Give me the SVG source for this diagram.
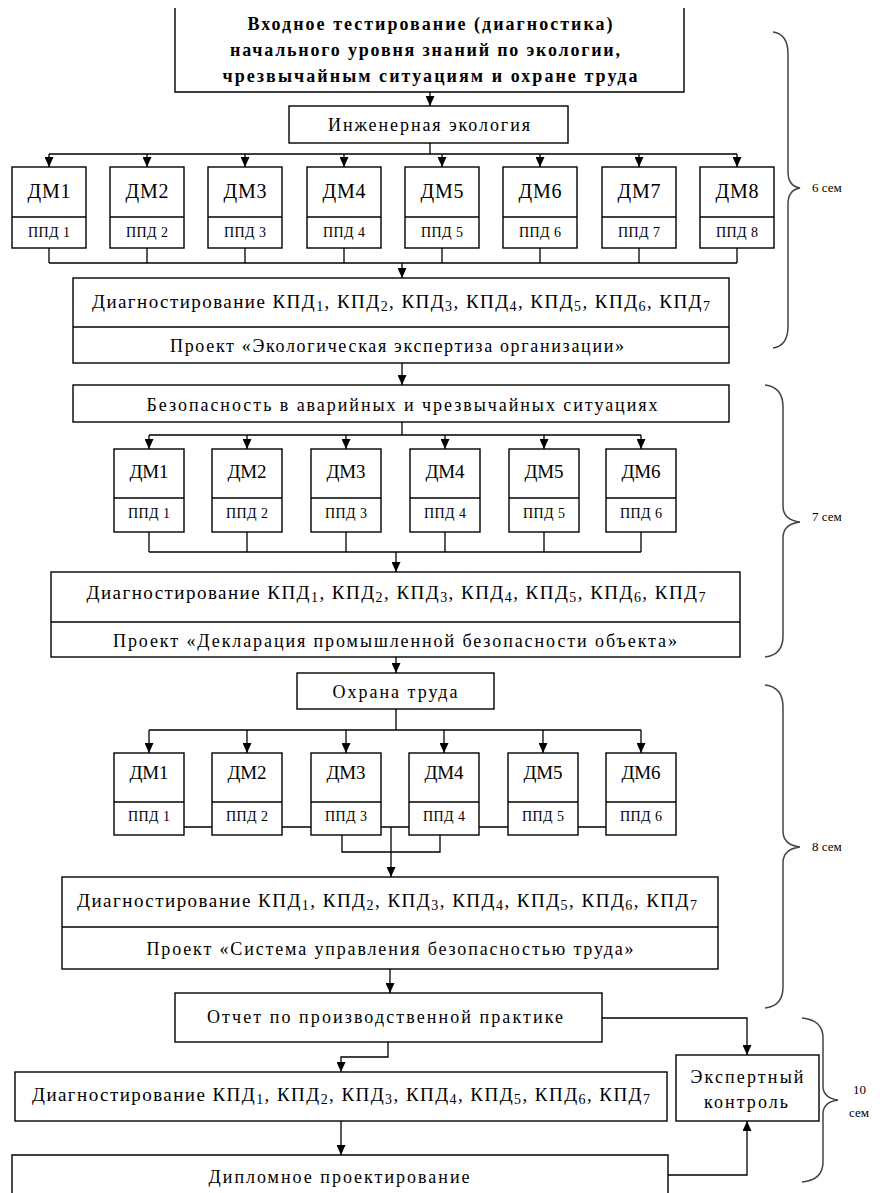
<svg xmlns="http://www.w3.org/2000/svg" width="882" height="1193" viewBox="0 0 882 1193">
<defs>
<marker id="ah" markerUnits="userSpaceOnUse" markerWidth="10" markerHeight="9" refX="10" refY="4.5" orient="auto">
<path d="M0,0 L10,4.5 L0,9 z" fill="#000"/>
</marker>
<style>
.nd rect, .bx { fill: #fff; stroke: #000; stroke-width: 1.4; }
.dv { stroke: #000; stroke-width: 1.4; fill: none; }
.cn path { fill: none; stroke: #000; stroke-width: 1.3; }
.cn .ar { marker-end: url(#ah); }
.br { fill: none; stroke: #444; stroke-width: 1.5; }
text { font-family: "Liberation Serif", "DejaVu Serif", "Times New Roman", serif; fill: #000; text-anchor: middle; }
.t18 { font-size: 18px; }
.tb { font-size: 18px; font-weight: bold; }
.dm { font-size: 20px; }
.dm2 { font-size: 19px; }
.pp { font-size: 14px; }
.dg { font-size: 19px; }
.sb { font-size: 14px; }
.sm { font-size: 13px; text-anchor: start; }
</style>
</defs>
<rect x="0" y="0" width="882" height="1193" style="fill:#fff;stroke:none"/>

<g id="top" class="nd">
<path class="bx" d="M175,8 L175,92 L684,92 L684,8"/>
<text class="tb" x="430" y="30" textLength="365" lengthAdjust="spacing">Входное тестирование (диагностика)</text>
<text class="tb" x="425" y="56" textLength="390" lengthAdjust="spacing">начального уровня знаний по экологии,</text>
<text class="tb" x="430" y="82" textLength="415" lengthAdjust="spacing">чрезвычайным ситуациям и охране труда</text>
</g>

<g id="eng" class="nd">
<rect x="289" y="106" width="279" height="37"/>
<text class="t18" x="429" y="131" textLength="202" lengthAdjust="spacing">Инженерная экология</text>
</g>

<g id="row1" class="nd">
<g id="r1dm1"><rect x="12" y="167" width="74" height="81"/><path class="dv" d="M12,217 H86"/><text class="dm" x="49" y="198" textLength="43" lengthAdjust="spacing">ДМ1</text><text class="pp" x="49" y="237" textLength="42" lengthAdjust="spacing">ППД 1</text></g>
<g id="r1dm2"><rect x="110" y="167" width="74" height="81"/><path class="dv" d="M110,217 H184"/><text class="dm" x="147" y="198" textLength="43" lengthAdjust="spacing">ДМ2</text><text class="pp" x="147" y="237" textLength="42" lengthAdjust="spacing">ППД 2</text></g>
<g id="r1dm3"><rect x="208" y="167" width="74" height="81"/><path class="dv" d="M208,217 H282"/><text class="dm" x="245" y="198" textLength="43" lengthAdjust="spacing">ДМ3</text><text class="pp" x="245" y="237" textLength="42" lengthAdjust="spacing">ППД 3</text></g>
<g id="r1dm4"><rect x="307" y="167" width="74" height="81"/><path class="dv" d="M307,217 H381"/><text class="dm" x="344" y="198" textLength="43" lengthAdjust="spacing">ДМ4</text><text class="pp" x="344" y="237" textLength="42" lengthAdjust="spacing">ППД 4</text></g>
<g id="r1dm5"><rect x="405" y="167" width="74" height="81"/><path class="dv" d="M405,217 H479"/><text class="dm" x="442" y="198" textLength="43" lengthAdjust="spacing">ДМ5</text><text class="pp" x="442" y="237" textLength="42" lengthAdjust="spacing">ППД 5</text></g>
<g id="r1dm6"><rect x="503" y="167" width="74" height="81"/><path class="dv" d="M503,217 H577"/><text class="dm" x="540" y="198" textLength="43" lengthAdjust="spacing">ДМ6</text><text class="pp" x="540" y="237" textLength="42" lengthAdjust="spacing">ППД 6</text></g>
<g id="r1dm7"><rect x="602" y="167" width="74" height="81"/><path class="dv" d="M602,217 H676"/><text class="dm" x="639" y="198" textLength="43" lengthAdjust="spacing">ДМ7</text><text class="pp" x="639" y="237" textLength="42" lengthAdjust="spacing">ППД 7</text></g>
<g id="r1dm8"><rect x="700" y="167" width="74" height="81"/><path class="dv" d="M700,217 H774"/><text class="dm" x="737" y="198" textLength="43" lengthAdjust="spacing">ДМ8</text><text class="pp" x="737" y="237" textLength="42" lengthAdjust="spacing">ППД 8</text></g>
</g>

<g id="diag1" class="nd">
<rect x="73" y="278" width="656" height="85"/>
<path class="dv" d="M73,327 H729"/>
<text class="dg" x="401" y="308" textLength="618" lengthAdjust="spacing">Диагностирование  КПД<tspan class="sb" dy="3">1</tspan><tspan dy="-3">, КПД</tspan><tspan class="sb" dy="3">2</tspan><tspan dy="-3">, КПД</tspan><tspan class="sb" dy="3">3</tspan><tspan dy="-3">, КПД</tspan><tspan class="sb" dy="3">4</tspan><tspan dy="-3">, КПД</tspan><tspan class="sb" dy="3">5</tspan><tspan dy="-3">, КПД</tspan><tspan class="sb" dy="3">6</tspan><tspan dy="-3">, КПД</tspan><tspan class="sb" dy="3">7</tspan></text>
<text class="t18" x="397" y="352" textLength="454" lengthAdjust="spacing">Проект «Экологическая экспертиза организации»</text>
</g>

<g id="safety" class="nd">
<rect x="73" y="385" width="656" height="37"/>
<text class="t18" x="402" y="411" textLength="511" lengthAdjust="spacing">Безопасность в аварийных  и чрезвычайных ситуациях</text>
</g>

<g id="row2" class="nd">
<g id="r2dm1"><rect x="114" y="449" width="70" height="83"/><path class="dv" d="M114,498 H184"/><text class="dm2" x="149" y="478" textLength="39" lengthAdjust="spacing">ДМ1</text><text class="pp" x="149" y="518" textLength="42" lengthAdjust="spacing">ППД 1</text></g>
<g id="r2dm2"><rect x="212" y="449" width="70" height="83"/><path class="dv" d="M212,498 H282"/><text class="dm2" x="247" y="478" textLength="39" lengthAdjust="spacing">ДМ2</text><text class="pp" x="247" y="518" textLength="42" lengthAdjust="spacing">ППД 2</text></g>
<g id="r2dm3"><rect x="311" y="449" width="70" height="83"/><path class="dv" d="M311,498 H381"/><text class="dm2" x="346" y="478" textLength="39" lengthAdjust="spacing">ДМ3</text><text class="pp" x="346" y="518" textLength="42" lengthAdjust="spacing">ППД 3</text></g>
<g id="r2dm4"><rect x="410" y="449" width="70" height="83"/><path class="dv" d="M410,498 H480"/><text class="dm2" x="445" y="478" textLength="39" lengthAdjust="spacing">ДМ4</text><text class="pp" x="445" y="518" textLength="42" lengthAdjust="spacing">ППД 4</text></g>
<g id="r2dm5"><rect x="509" y="449" width="70" height="83"/><path class="dv" d="M509,498 H579"/><text class="dm2" x="544" y="478" textLength="39" lengthAdjust="spacing">ДМ5</text><text class="pp" x="544" y="518" textLength="42" lengthAdjust="spacing">ППД 5</text></g>
<g id="r2dm6"><rect x="606" y="449" width="70" height="83"/><path class="dv" d="M606,498 H676"/><text class="dm2" x="641" y="478" textLength="39" lengthAdjust="spacing">ДМ6</text><text class="pp" x="641" y="518" textLength="42" lengthAdjust="spacing">ППД 6</text></g>
</g>

<g id="diag2" class="nd">
<rect x="51" y="572" width="689" height="85"/>
<path class="dv" d="M51,622 H740"/>
<text class="dg" x="396" y="599" textLength="619" lengthAdjust="spacing">Диагностирование  КПД<tspan class="sb" dy="3">1</tspan><tspan dy="-3">, КПД</tspan><tspan class="sb" dy="3">2</tspan><tspan dy="-3">, КПД</tspan><tspan class="sb" dy="3">3</tspan><tspan dy="-3">, КПД</tspan><tspan class="sb" dy="3">4</tspan><tspan dy="-3">, КПД</tspan><tspan class="sb" dy="3">5</tspan><tspan dy="-3">, КПД</tspan><tspan class="sb" dy="3">6</tspan><tspan dy="-3">, КПД</tspan><tspan class="sb" dy="3">7</tspan></text>
<text class="t18" x="395" y="647" textLength="564" lengthAdjust="spacing">Проект «Декларация промышленной безопасности объекта»</text>
</g>

<g id="labor" class="nd">
<rect x="297" y="673" width="197" height="36"/>
<text class="t18" x="395" y="698" textLength="125" lengthAdjust="spacing">Охрана труда</text>
</g>

<g id="row3" class="nd">
<g id="r3dm1"><rect x="114" y="753" width="70" height="82"/><path class="dv" d="M114,802 H184"/><text class="dm2" x="149" y="779" textLength="39" lengthAdjust="spacing">ДМ1</text><text class="pp" x="149" y="821" textLength="42" lengthAdjust="spacing">ППД 1</text></g>
<g id="r3dm2"><rect x="212" y="753" width="70" height="82"/><path class="dv" d="M212,802 H282"/><text class="dm2" x="247" y="779" textLength="39" lengthAdjust="spacing">ДМ2</text><text class="pp" x="247" y="821" textLength="42" lengthAdjust="spacing">ППД 2</text></g>
<g id="r3dm3"><rect x="311" y="753" width="70" height="82"/><path class="dv" d="M311,802 H381"/><text class="dm2" x="346" y="779" textLength="39" lengthAdjust="spacing">ДМ3</text><text class="pp" x="346" y="821" textLength="42" lengthAdjust="spacing">ППД 3</text></g>
<g id="r3dm4"><rect x="409" y="753" width="70" height="82"/><path class="dv" d="M409,802 H479"/><text class="dm2" x="444" y="779" textLength="39" lengthAdjust="spacing">ДМ4</text><text class="pp" x="444" y="821" textLength="42" lengthAdjust="spacing">ППД 4</text></g>
<g id="r3dm5"><rect x="508" y="753" width="70" height="82"/><path class="dv" d="M508,802 H578"/><text class="dm2" x="543" y="779" textLength="39" lengthAdjust="spacing">ДМ5</text><text class="pp" x="543" y="821" textLength="42" lengthAdjust="spacing">ППД 5</text></g>
<g id="r3dm6"><rect x="606" y="753" width="70" height="82"/><path class="dv" d="M606,802 H676"/><text class="dm2" x="641" y="779" textLength="39" lengthAdjust="spacing">ДМ6</text><text class="pp" x="641" y="821" textLength="42" lengthAdjust="spacing">ППД 6</text></g>
</g>

<g id="diag3" class="nd">
<rect x="62" y="877" width="656" height="92"/>
<path class="dv" d="M62,927 H718"/>
<text class="dg" x="387" y="907" textLength="620" lengthAdjust="spacing">Диагностирование  КПД<tspan class="sb" dy="3">1</tspan><tspan dy="-3">, КПД</tspan><tspan class="sb" dy="3">2</tspan><tspan dy="-3">, КПД</tspan><tspan class="sb" dy="3">3</tspan><tspan dy="-3">, КПД</tspan><tspan class="sb" dy="3">4</tspan><tspan dy="-3">, КПД</tspan><tspan class="sb" dy="3">5</tspan><tspan dy="-3">, КПД</tspan><tspan class="sb" dy="3">6</tspan><tspan dy="-3">, КПД</tspan><tspan class="sb" dy="3">7</tspan></text>
<text class="t18" x="390" y="955" textLength="487" lengthAdjust="spacing">Проект «Система управления безопасностью труда»</text>
</g>

<g id="report" class="nd">
<rect x="175" y="993" width="427" height="49"/>
<text class="t18" x="385" y="1023" textLength="356" lengthAdjust="spacing">Отчет по производственной практике</text>
</g>

<g id="diag4" class="nd">
<rect x="15" y="1072" width="652" height="49"/>
<text class="dg" x="341" y="1101" textLength="618" lengthAdjust="spacing">Диагностирование  КПД<tspan class="sb" dy="3">1</tspan><tspan dy="-3">, КПД</tspan><tspan class="sb" dy="3">2</tspan><tspan dy="-3">, КПД</tspan><tspan class="sb" dy="3">3</tspan><tspan dy="-3">, КПД</tspan><tspan class="sb" dy="3">4</tspan><tspan dy="-3">, КПД</tspan><tspan class="sb" dy="3">5</tspan><tspan dy="-3">, КПД</tspan><tspan class="sb" dy="3">6</tspan><tspan dy="-3">, КПД</tspan><tspan class="sb" dy="3">7</tspan></text>
</g>

<g id="diploma" class="nd">
<path class="bx" d="M12,1200 L12,1155 L668,1155 L668,1200"/>
<text class="t18" x="339" y="1183" textLength="261" lengthAdjust="spacing">Дипломное проектирование</text>
</g>

<g id="expert" class="nd">
<rect x="676" y="1055" width="143" height="66"/>
<text class="t18" x="747" y="1083" textLength="113" lengthAdjust="spacing">Экспертный</text>
<text class="t18" x="746" y="1108" textLength="84" lengthAdjust="spacing">контроль</text>
</g>

<g id="connectors" class="cn">
<path class="ar" d="M430,92 V106"/>
<path d="M430,143 V154 M49,154 H737"/>
<path class="ar" d="M49,154 V167"/><path class="ar" d="M147,154 V167"/><path class="ar" d="M245,154 V167"/><path class="ar" d="M344,154 V167"/>
<path class="ar" d="M442,154 V167"/><path class="ar" d="M540,154 V167"/><path class="ar" d="M639,154 V167"/><path class="ar" d="M737,154 V167"/>
<path d="M49,248 V263 M147,248 V263 M245,248 V263 M344,248 V263 M442,248 V263 M540,248 V263 M639,248 V263 M737,248 V263 M49,263 H737"/>
<path class="ar" d="M402,263 V278"/>
<path class="ar" d="M402,363 V385"/>
<path d="M402,422 V435 M149,435 H641"/>
<path class="ar" d="M149,435 V449"/><path class="ar" d="M247,435 V449"/><path class="ar" d="M346,435 V449"/>
<path class="ar" d="M445,435 V449"/><path class="ar" d="M544,435 V449"/><path class="ar" d="M641,435 V449"/>
<path d="M149,532 V552 M247,532 V552 M346,532 V552 M445,532 V552 M544,532 V552 M641,532 V552 M149,552 H641"/>
<path class="ar" d="M396,552 V572"/>
<path class="ar" d="M396,657 V673"/>
<path d="M396,709 V730 M149,730 H641"/>
<path class="ar" d="M149,730 V753"/><path class="ar" d="M247,730 V753"/><path class="ar" d="M346,730 V753"/>
<path class="ar" d="M444,730 V753"/><path class="ar" d="M543,730 V753"/><path class="ar" d="M641,730 V753"/>
<path d="M184,827 H212 M282,827 H311 M381,827 H409 M479,827 H508 M578,827 H606"/>
<path d="M342,835 V852 H440 V835"/>
<path class="ar" d="M391,827 V877"/>
<path class="ar" d="M390,969 V993"/>
<path class="ar" d="M388,1042 V1057 H341 V1072"/>
<path class="ar" d="M341,1121 V1155"/>
<path class="ar" d="M602,1018 H747 V1055"/>
<path class="ar" d="M668,1175 H747 V1121"/>
</g>

<g id="braces">
<path class="br" d="M773,32 Q788,34 788,54 L788,172 Q788,186 800,188 Q788,190 788,204 L788,326 Q788,346 773,348"/>
<text class="sm" x="812" y="192">6 сем</text>
<path class="br" d="M765,385 Q783,387 783,407 L783,506 Q783,520 800,522 Q783,524 783,538 L783,636 Q783,655 765,657"/>
<text class="sm" x="812" y="521">7 сем</text>
<path class="br" d="M765,685 Q783,687 783,707 L783,831 Q783,845 800,847 Q783,849 783,863 L783,987 Q783,1006 765,1008"/>
<text class="sm" x="812" y="851">8 сем</text>
<path class="br" d="M802,1018 Q823,1020 823,1038 L823,1086 Q823,1098 838,1100 Q823,1102 823,1114 L823,1162 Q823,1180 802,1182"/>
<text class="sm" x="853" y="1094">10</text>
<text class="sm" x="849" y="1117">сем</text>
</g>
</svg>
